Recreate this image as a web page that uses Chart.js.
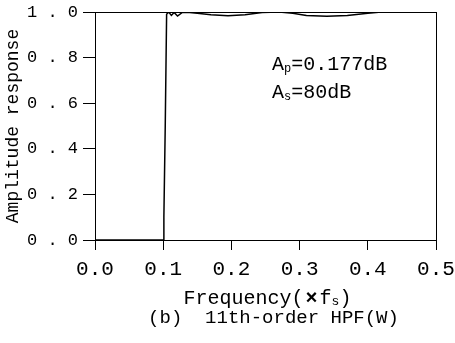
<!DOCTYPE html>
<html>
<head>
<meta charset="utf-8">
<script src="https://cdn.jsdelivr.net/npm/chart.js@4/dist/chart.umd.min.js"></script>
<style>
  html, body { margin: 0; padding: 0; background: #fff; }
  #wrap { width: 455px; height: 343px; }
</style>
</head>
<body>
<div id="wrap"><canvas id="chartHPF" width="455" height="343"></canvas></div>
<script>
// Resposta em amplitude do HPF de 11a ordem
const freq = [0.0, 0.05, 0.1, 0.101, 0.103, 0.105, 0.108, 0.112, 0.116, 0.121, 0.128, 0.135, 0.15, 0.17, 0.195, 0.22, 0.245, 0.27, 0.29, 0.31, 0.34, 0.37, 0.40, 0.42, 0.45, 0.5];
const amp  = [0.0, 0.0, 0.0, 0.1, 0.5, 0.99, 1.0, 0.985, 0.998, 0.982, 0.998, 0.999, 0.995, 0.988, 0.984, 0.988, 0.998, 1.0, 0.995, 0.985, 0.981, 0.985, 0.995, 1.0, 1.0, 1.0];
const xTicks = [0.0, 0.1, 0.2, 0.3, 0.4, 0.5];
const yTicks = [0.0, 0.2, 0.4, 0.6, 0.8, 1.0];

const MONO = "'Liberation Mono', 'DejaVu Sans Mono', monospace";

// Moldura + textos (título do eixo x, legenda, Ap/As)
const framePlugin = {
    id: "frame",
    afterDraw(chart) {
        const { ctx, chartArea: a } = chart;
        ctx.save();
        ctx.strokeStyle = "#000";
        ctx.lineWidth = 1;
        ctx.strokeRect(a.left + 0.5, a.top + 0.5, a.right - a.left, a.bottom - a.top);

        ctx.fillStyle = "#000";
        ctx.textBaseline = "alphabetic";
        // anotações
        function sub(x, y, big, small, rest, size) {
            ctx.font = size + "px " + MONO;
            ctx.fillText(big, x, y);
            let w = ctx.measureText(big).width;
            ctx.font = Math.round(size * 0.6) + "px " + MONO;
            ctx.fillText(small, x + w, y + 2);
            w += ctx.measureText(small).width;
            ctx.font = size + "px " + MONO;
            ctx.fillText(rest, x + w, y);
        }
        sub(a.left + 177, a.top + 58, "A", "p", "=0.177dB", 20);
        sub(a.left + 177, a.top + 86, "A", "s", "=80dB", 20);

        // título do eixo x
        const cx = (a.left + a.right) / 2;
        ctx.font = "20px " + MONO;
        const t1 = "Frequency(", t2 = "\u00d7", t3 = "f", t4 = "s", t5 = ")";
        const w1 = ctx.measureText(t1).width, w2 = ctx.measureText(t2).width + 4, w3 = ctx.measureText(t3).width;
        ctx.font = "13px " + MONO;
        const w4 = ctx.measureText(t4).width;
        ctx.font = "20px " + MONO;
        const w5 = ctx.measureText(t5).width;
        let x0 = cx - (w1 + w2 + w3 + w4 + w5) / 2 + 2;
        const yT = a.bottom + 64;
        ctx.fillText(t1, x0, yT); x0 += w1;
        ctx.font = "bold 20px " + MONO;
        ctx.fillText(t2, x0 + 2, yT); x0 += w2;
        ctx.font = "20px " + MONO;
        ctx.fillText(t3, x0, yT); x0 += w3;
        ctx.font = "13px " + MONO;
        ctx.fillText(t4, x0, yT + 1); x0 += w4;
        ctx.font = "20px " + MONO;
        ctx.fillText(t5, x0, yT);

        // legenda
        ctx.font = "19px " + MONO;
        ctx.textAlign = "center";
        ctx.fillText("(b)  11th-order HPF(W)", cx + 8, a.bottom + 83);
        ctx.restore();
    }
};

new Chart(document.getElementById("chartHPF"), {
    type: "line",
    data: {
        datasets: [{
            data: freq.map((f, i) => ({ x: f, y: amp[i] })),
            borderColor: "#000",
            borderWidth: 1.5,
            pointRadius: 0,
            tension: 0,
            fill: false
        }]
    },
    options: {
        responsive: false,
        animation: false,
        devicePixelRatio: 1,
        layout: { padding: { top: 12, right: 19, left: 0, bottom: 0 } },
        plugins: { legend: { display: false }, tooltip: { enabled: false } },
        scales: {
            x: {
                type: "linear",
                min: 0, max: 0.5,
                afterBuildTicks: s => { s.ticks = xTicks.map(v => ({ value: v })); },
                afterFit: s => { s.height = 103; s.paddingLeft = 0; s.paddingRight = 0; },
                ticks: {
                    callback: v => v.toFixed(1),
                    font: { family: MONO, size: 21 },
                    color: "#000",
                    padding: 7,
                    maxRotation: 0
                },
                grid: { drawOnChartArea: false, tickLength: 10, color: "#000" },
                border: { color: "#000", width: 1 }
            },
            y: {
                min: 0, max: 1,
                afterBuildTicks: s => { s.ticks = yTicks.map(v => ({ value: v })); },
                afterFit: s => { s.width = 95; s.paddingTop = 0; s.paddingBottom = 0; },
                ticks: {
                    callback: v => v.toFixed(1).split("").join(" "),
                    font: { family: MONO, size: 17 },
                    color: "#000",
                    padding: 5
                },
                grid: { drawOnChartArea: false, tickLength: 12, color: "#000" },
                border: { color: "#000", width: 1 },
                title: {
                    display: true,
                    text: "Amplitude response",
                    font: { family: MONO, size: 18 },
                    color: "#000",
                    padding: { top: 2, bottom: 0 }
                }
            }
        }
    },
    plugins: [framePlugin]
});
</script>
</body>
</html>
